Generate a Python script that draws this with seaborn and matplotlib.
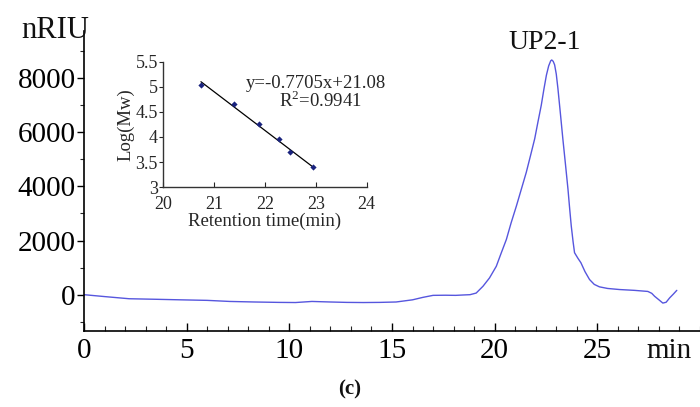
import numpy as np
import pandas as pd
import matplotlib
matplotlib.use("Agg")
import matplotlib.pyplot as plt
import seaborn as sns
from matplotlib.ticker import MultipleLocator, FixedLocator

# ---- main chromatogram data (time in min, signal in nRIU) ----
time_min = [0.0, 1.0, 2.2, 3.5, 4.7, 6.0, 7.1, 8.3, 9.5, 10.3, 11.1, 12.0, 12.8, 13.6,
            14.4, 15.2, 16.0, 16.5, 17.0, 17.6, 18.1, 18.5, 18.8, 19.1, 19.43, 19.75,
            20.08, 20.3, 20.57, 20.8, 21.06, 21.3, 21.54, 21.75, 21.95, 22.1, 22.27,
            22.4, 22.52, 22.63, 22.73, 22.78, 22.85, 22.92, 23.0, 23.08, 23.2, 23.32,
            23.45, 23.57, 23.65, 23.73, 23.82, 23.89, 24.05, 24.2, 24.4, 24.62, 24.85,
            25.1, 25.5, 26.08, 26.8, 27.46, 27.65, 27.79, 28.0, 28.19, 28.35, 28.52,
            28.7, 28.87]
signal = [0, -70, -150, -170, -190, -210, -250, -270, -285, -290, -250, -270, -285,
          -290, -285, -270, -190, -100, -25, -20, -25, -10, 0, 60, 310, 620,
          1050, 1500, 2040, 2650, 3280, 3900, 4520, 5150, 5760, 6350, 7000,
          7600, 8110, 8450, 8640, 8670, 8620, 8490, 8150, 7620, 6700, 5760,
          4800, 3900, 3200, 2540, 1950, 1550, 1350, 1180, 850, 560, 380,
          290, 230, 190, 160, 120, 50, -60, -190, -310, -280, -120,
          20, 160]

# ---- inset calibration data ----
ret_time = [20.74, 21.39, 21.88, 22.28, 22.50, 22.95]
log_mw = [5.03, 4.65, 4.26, 3.955, 3.70, 3.40]
fit_slope = -0.7705
fit_intercept = 21.08

main_xticks = [0, 5, 10, 15, 20, 25]
main_yticks = [0, 2000, 4000, 6000, 8000]
inset_xticks = [20, 21, 22, 23, 24]
inset_yticks = [3, 3.5, 4, 4.5, 5, 5.5]
inset_ytick_labels = ["3", "3.5", "4", "4.5", "5", "5.5"]

sns.set_theme(style="ticks")
plt.rcParams["font.family"] = ["Liberation Serif", "DejaVu Serif"]
plt.rcParams["mathtext.fontset"] = "custom"
plt.rcParams["mathtext.rm"] = "Liberation Serif"

fig = plt.figure(figsize=(7, 4.07), dpi=100)
fig.patch.set_facecolor("white")

# ---------------- main axes ----------------
ax = fig.add_axes([0.12, 0.1875, 0.88, 0.737])
df = pd.DataFrame({"t": time_min, "s": signal})
sns.lineplot(data=df, x="t", y="s", ax=ax, color="#5656de", linewidth=1.0)
ax.set_xlim(0, 30)
ax.set_ylim(-1330, 9750)
ax.set_xlabel("")
ax.set_ylabel("")
for sp in ["top", "right"]:
    ax.spines[sp].set_visible(False)
for sp in ["left", "bottom"]:
    ax.spines[sp].set_linewidth(1.2)
    ax.spines[sp].set_color("black")
ax.xaxis.set_major_locator(FixedLocator(main_xticks))
ax.xaxis.set_minor_locator(MultipleLocator(1))
ax.yaxis.set_major_locator(FixedLocator(main_yticks))
ax.yaxis.set_minor_locator(MultipleLocator(1000))
ax.set_xticklabels([str(v) for v in main_xticks])
ax.set_yticklabels([str(v) for v in main_yticks])
ax.tick_params(axis="x", which="major", direction="in", length=6, width=1.0,
               labelsize=21, pad=5, colors="black")
ax.tick_params(axis="x", which="minor", direction="in", length=3.5, width=0.8)
ax.tick_params(axis="y", which="major", direction="out", length=5, width=1.0,
               labelsize=21, pad=1, colors="black")
ax.tick_params(axis="y", which="minor", direction="out", length=3, width=0.8)
ax.set_facecolor("white")

ax.text(22.45, 9300, "UP2-1", ha="center", va="center", fontsize=20, color="#111111")
fig.text(0.030, 0.925, "nRIU", ha="left", va="center", fontsize=22, color="#111111")
fig.text(0.956, 0.137, "min", ha="center", va="center", fontsize=21, color="#111111")
fig.text(0.5, 0.042, "(c)", ha="center", va="center", fontsize=15,
         fontweight="bold", color="#111111")

# ---------------- inset axes ----------------
ins = fig.add_axes([0.2333, 0.54, 0.2906, 0.3086])
ins.set_facecolor("white")
fit_x = np.array([min(ret_time), max(ret_time)])
fit_y = fit_slope * fit_x + fit_intercept
sns.lineplot(x=fit_x, y=fit_y, ax=ins, color="black", linewidth=0.9)
sns.scatterplot(x=ret_time, y=log_mw, ax=ins, color="#1a237e", marker="D",
                s=10, edgecolor="#1a237e", linewidth=0, zorder=3)
ins.set_xlim(20, 24)
ins.set_ylim(3, 5.5)
for sp in ["top", "right"]:
    ins.spines[sp].set_visible(False)
for sp in ["left", "bottom"]:
    ins.spines[sp].set_linewidth(1.0)
    ins.spines[sp].set_color("#333333")
ins.xaxis.set_major_locator(FixedLocator(inset_xticks))
ins.yaxis.set_major_locator(FixedLocator(inset_yticks))
ins.set_yticklabels(inset_ytick_labels)
ins.tick_params(axis="x", direction="in", length=3.5, width=0.8, labelsize=13, pad=6)
ins.tick_params(axis="y", direction="out", length=3, width=0.8, labelsize=13, pad=1)
ins.set_xlabel("Retention time(min)", fontsize=13.5, labelpad=0)
ins.set_ylabel("Log(Mw)", fontsize=13.5, labelpad=1)
ins.text(21.62, 5.07, "y=-0.7705x+21.08", ha="left", va="center", fontsize=13.5)
ins.text(22.28, 4.73, "R$^2$=0.9941", ha="left", va="center", fontsize=13.5)

fig.savefig("out.png", dpi=100, facecolor="white")
